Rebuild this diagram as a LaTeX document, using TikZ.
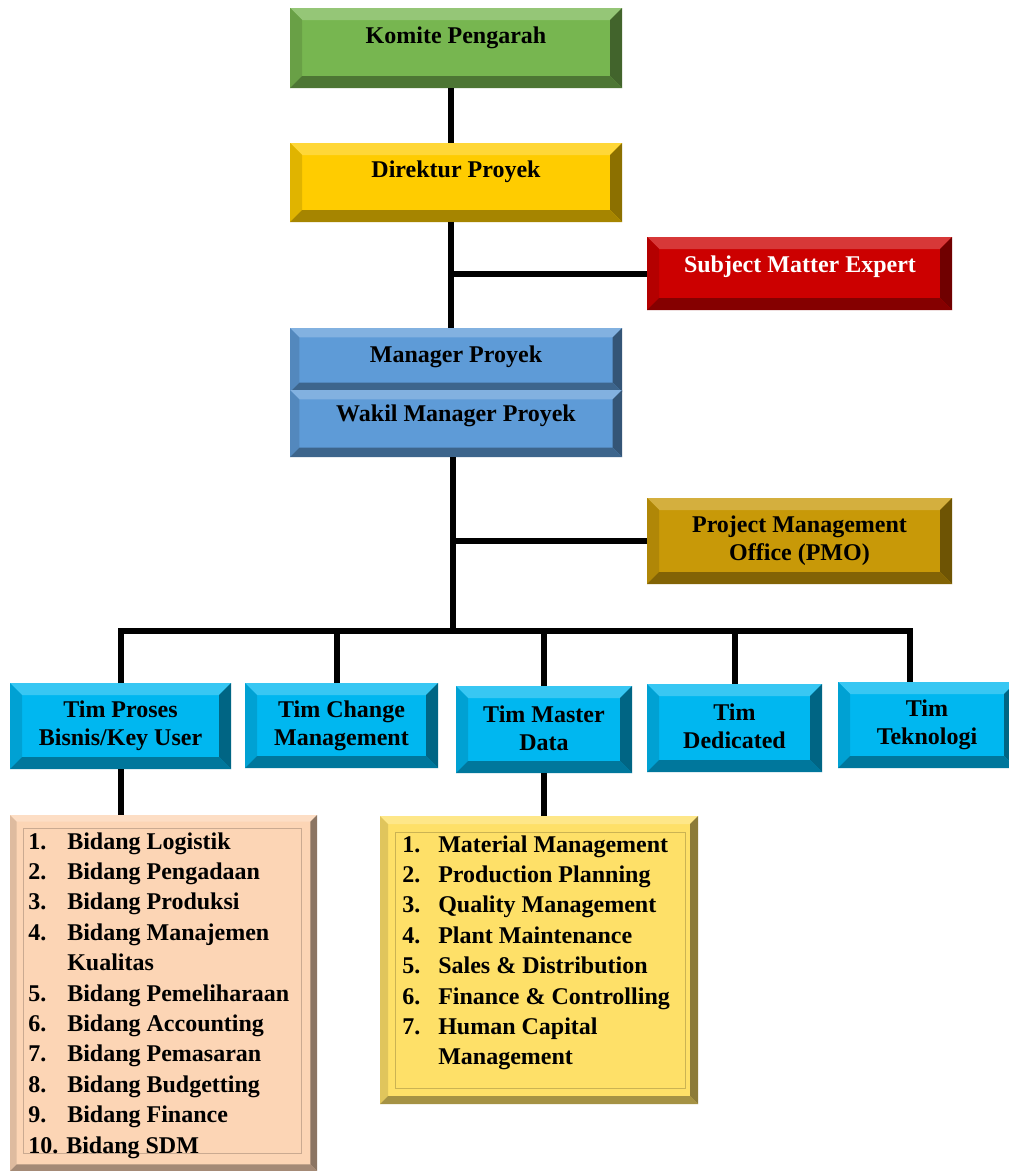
\documentclass[tikz,border=0pt]{standalone}
\usepackage{fontspec}
\setmainfont{Liberation Serif}
\usetikzlibrary{fit,backgrounds}

\definecolor{cGreen}{RGB}{119,182,80}
\definecolor{cGold}{RGB}{255,204,0}
\definecolor{cRed}{RGB}{204,0,0}
\definecolor{cBlue}{RGB}{94,155,215}
\definecolor{cOchre}{RGB}{200,153,8}
\definecolor{cCyan}{RGB}{0,183,240}
\definecolor{cPeach}{RGB}{252,213,181}
\definecolor{cButter}{RGB}{254,224,104}

\tikzset{
  bevel depth/.store in=\bvdepth, bevel depth=9pt,
  % raised box: flat face with four shaded edge bands
  bevel/.style={inner sep=0pt, outer sep=0pt, fill=#1, path picture={
    \coordinate (bvNW) at (path picture bounding box.north west);
    \coordinate (bvNE) at (path picture bounding box.north east);
    \coordinate (bvSE) at (path picture bounding box.south east);
    \coordinate (bvSW) at (path picture bounding box.south west);
    \coordinate (bvnw) at ([shift={(\bvdepth,-\bvdepth)}]bvNW);
    \coordinate (bvne) at ([shift={(-\bvdepth,-\bvdepth)}]bvNE);
    \coordinate (bvse) at ([shift={(-\bvdepth,\bvdepth)}]bvSE);
    \coordinate (bvsw) at ([shift={(\bvdepth,\bvdepth)}]bvSW);
    \fill[#1!78!white] (bvNW) -- (bvNE) -- (bvne) -- (bvnw) -- cycle;
    \fill[#1!88!black] (bvNW) -- (bvnw) -- (bvsw) -- (bvSW) -- cycle;
    \fill[#1!55!black] (bvNE) -- (bvSE) -- (bvse) -- (bvne) -- cycle;
    \fill[#1!65!black] (bvSW) -- (bvsw) -- (bvse) -- (bvSE) -- cycle;
  }},
  lbl/.style={font=\fontsize{18}{21}\selectfont\bfseries, align=center, inner sep=0pt},
  listtxt/.style={font=\fontsize{18}{22.8}\selectfont\bfseries, inner sep=0pt, anchor=base west},
  wire/.style={line width=4.5pt, line join=miter, black},
  frame/.style={line width=0.6pt, #1},
}

\begin{document}
\begin{tikzpicture}[x=0.75pt, y=-0.75pt]
\clip (0,0) rectangle (1009,1171);
\fill[white] (0,0) rectangle (1009,1171);

% upper chain
\node[bevel=cGreen, fit={(290,8) (622,88)}] (komite) {};
\node[lbl] (komiteT) at (456,38) {Komite Pengarah};

\node[bevel=cGold, fit={(290,143) (622,222)}] (direktur) {};
\node[lbl] (direkturT) at (456,172) {Direktur Proyek};

\node[bevel=cRed, fit={(647,237) (952,310)}] (sme) {};
\node[lbl, text=white] (smeT) at (800,267) {Subject Matter Expert};

\node[bevel=cBlue, bevel depth=7pt, fit={(290,328) (622,392)}] (manager) {};
\node[bevel=cBlue, bevel depth=7pt, fit={(290,390) (622,457)}] (wakil) {};
\node[lbl] (managerT) at (456,357) {Manager Proyek};
\node[lbl] (wakilT) at (456,416) {Wakil Manager Proyek};

\node[bevel=cOchre, fit={(647,498) (952,584)}] (pmo) {};
\node[lbl] (pmoT) at (pmo.center) {Project Management\\Office (PMO)};

% team row
\node[bevel=cCyan, fit={(10,683) (231,769)}] (timA) {};
\node[lbl] (timAT) at (timA.center) {Tim Proses\\Bisnis/Key User};
\node[bevel=cCyan, fit={(245,683) (438,768)}] (timB) {};
\node[lbl] (timBT) at (timB.center) {Tim Change\\Management};
\node[bevel=cCyan, fit={(456,686) (632,773)}] (timC) {};
\node[lbl] (timCT) at ([yshift=1pt]timC.center) {Tim Master\\Data};
\node[bevel=cCyan, fit={(647,684) (822,772)}] (timD) {};
\node[lbl] (timDT) at ([yshift=1pt]timD.center) {Tim\\Dedicated};
\node[bevel=cCyan, fit={(838,682) (1016,768)}] (timE) {};
\node[lbl] (timET) at (timE.center) {Tim\\Teknologi};

% lists
\node[bevel=cPeach, bevel depth=5pt, fit={(10,815) (317,1171)}] (peach) {};
\draw[frame=cPeach!80!black] (23,828) rectangle (301,1153);
\node[listtxt] (peachT) at (28,849) {\begin{tabular}[t]{@{}p{29.25pt}@{}l@{}}
1. & Bidang Logistik\\
2. & Bidang Pengadaan\\
3. & Bidang Produksi\\
4. & Bidang Manajemen\\
   & Kualitas\\
5. & Bidang Pemeliharaan\\
6. & Bidang Accounting\\
7. & Bidang Pemasaran\\
8. & Bidang Budgetting\\
9. & Bidang Finance\\
\multicolumn{2}{@{}l@{}}{10. Bidang SDM}
\end{tabular}};

\node[bevel=cButter, bevel depth=6pt, fit={(380,816) (698,1104)}] (butter) {};
\draw[frame=cButter!80!black] (395,832) rectangle (685,1088);
\node[listtxt] (butterT) at (402,852) {\begin{tabular}[t]{@{}p{27pt}@{}l@{}}
1. & Material Management\\
2. & Production Planning\\
3. & Quality Management\\
4. & Plant Maintenance\\
5. & Sales \& Distribution\\
6. & Finance \& Controlling\\
7. & Human Capital\\
   & Management
\end{tabular}};

% connectors
\coordinate (spine) at (451,0);
\coordinate (spineB) at (453,0);
\coordinate (bus) at (0,631);
\coordinate (dropB) at (337,0);
\coordinate (dropE) at (910,0);

\draw[wire] (komite.south -| spine) -- (direktur.north -| spine);
\draw[wire] (direktur.south -| spine) -- (manager.north -| spine);
\draw[wire] (sme.west -| spine) -- (sme.west);
\draw[wire] (wakil.south -| spineB) -- (bus -| spineB);
\draw[wire] (pmo.west -| spineB) -- (pmo.west);
\draw[wire] (timA.north) -- (timA.north |- bus) -- (bus -| dropE) -- (dropE |- timE.north);
\draw[wire] (bus -| dropB) -- (dropB |- timB.north);
\draw[wire] (bus -| timC.north) -- (timC.north);
\draw[wire] (bus -| timD.north) -- (timD.north);
\draw[wire] (timA.south) -- (timA.south |- peach.north);
\draw[wire] (timC.south) -- (timC.south |- butter.north);
\end{tikzpicture}
\end{document}
